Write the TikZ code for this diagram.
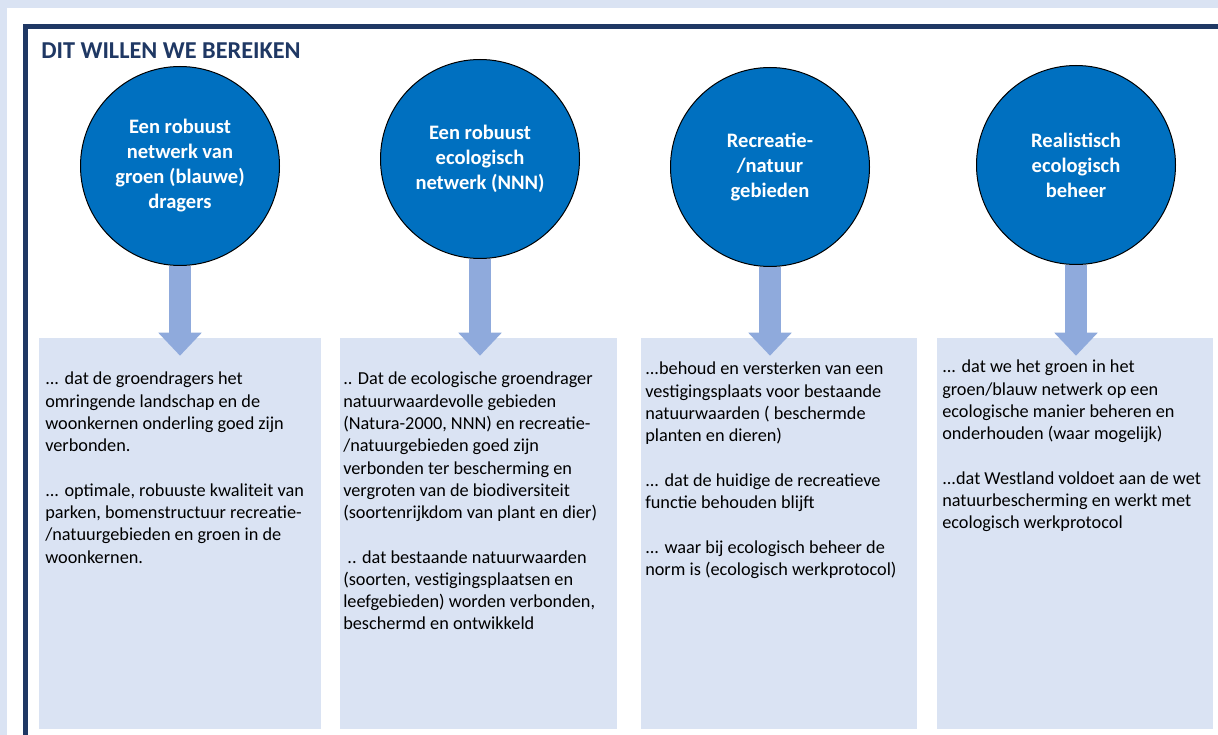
\documentclass[tikz,border=0pt]{standalone}
\usepackage{fontspec}
\setmainfont{Carlito}
\usetikzlibrary{arrows.meta,calc}

\definecolor{achtergrond}{HTML}{DAE3F3}
\definecolor{kader}{HTML}{1F3864}
\definecolor{bolblauw}{HTML}{0070C0}
\definecolor{pijlblauw}{HTML}{8FAADC}
\definecolor{vakblauw}{HTML}{DAE3F3}

\tikzset{
  bol/.style={circle, draw=black, line width=0.75pt, fill=bolblauw, text=white,
    minimum size=149.25pt, inner sep=0pt, align=center,
    font=\fontsize{15.4pt}{18.75pt}\selectfont\bfseries},
  vak/.style={fill=vakblauw, inner sep=0pt, minimum height=293.25pt},
  tekst/.style={anchor=north west, align=left, inner sep=0pt,
    font=\fontsize{13.7pt}{16.7pt}\selectfont},
  pijl/.style={draw=pijlblauw, line width=16.5pt,
    -{Triangle[width=31.5pt,length=17.25pt]}}
}

\begin{document}
\begin{tikzpicture}[x=0.75pt, y=-0.75pt]
\useasboundingbox (0,0) rectangle (1218,735);

% achtergrond en kader
\fill [achtergrond] (0,0) rectangle (1218,735);
\fill [white] (7,8) rectangle (1218,735);
\draw [kader, line width=3.75pt] (25.5,735) |- (1218,26.5);

\node [anchor=base west, text=kader, inner sep=0pt,
  font=\fontsize{18.2pt}{22pt}\selectfont\bfseries] (kop) at (41,59) {DIT WILLEN WE BEREIKEN};

% vakken
\foreach \i/\xa/\xb in {1/39/321, 2/340/617, 3/641/917, 4/937/1213}
\node [vak, minimum width={(\xb-\xa)*0.75pt}] (b\i) at ({(\xa+\xb)/2},533.5) {};

\node [tekst] (t1) at (45,372) {... dat de groendragers het\\
omringende landschap en de\\
woonkernen onderling goed zijn\\
verbonden.\\[16.7pt]
... optimale, robuuste kwaliteit van\\
parken, bomenstructuur recreatie-\\
/natuurgebieden en groen in de\\
woonkernen.};

\node [tekst] (t2) at (343,372) {.. Dat de ecologische groendrager\\
natuurwaardevolle gebieden\\
(Natura-2000, NNN) en recreatie-\\
/natuurgebieden goed zijn\\
verbonden ter bescherming en\\
vergroten van de biodiversiteit\\
(soortenrijkdom van plant en dier)\\[16.7pt]
\ .. dat bestaande natuurwaarden\\
(soorten, vestigingsplaatsen en\\
leefgebieden) worden verbonden,\\
beschermd en ontwikkeld};

\node [tekst] (t3) at (645,362) {...behoud en versterken van een\\
vestigingsplaats voor bestaande\\
natuurwaarden ( beschermde\\
planten en dieren)\\[16.7pt]
... dat de huidige de recreatieve\\
functie behouden blijft\\[16.7pt]
... waar bij ecologisch beheer de\\
norm is (ecologisch werkprotocol)};

\node [tekst] (t4) at (942,360) {... dat we het groen in het\\
groen/blauw netwerk op een\\
ecologische manier beheren en\\
onderhouden (waar mogelijk)\\[16.7pt]
...dat Westland voldoet aan de wet\\
natuurbescherming en werkt met\\
ecologisch werkprotocol};

% doelen
\foreach \i/\x/\y/\inhoud in {1/180/166/{Een robuust\\netwerk van\\groen (blauwe)\\dragers},
  2/480/159/{Een robuust\\ecologisch\\netwerk (NNN)},
  3/770/167/{Recreatie-\\/natuur\\gebieden},
  4/1076/165/{Realistisch\\ecologisch\\beheer}}
\node [bol] (c\i) at (\x,\y) {\inhoud};

\foreach \i in {1,...,4}
\draw [pijl] (c\i.south) -- ($(c\i.south |- b\i.north)+(0,18)$);
\end{tikzpicture}
\end{document}
